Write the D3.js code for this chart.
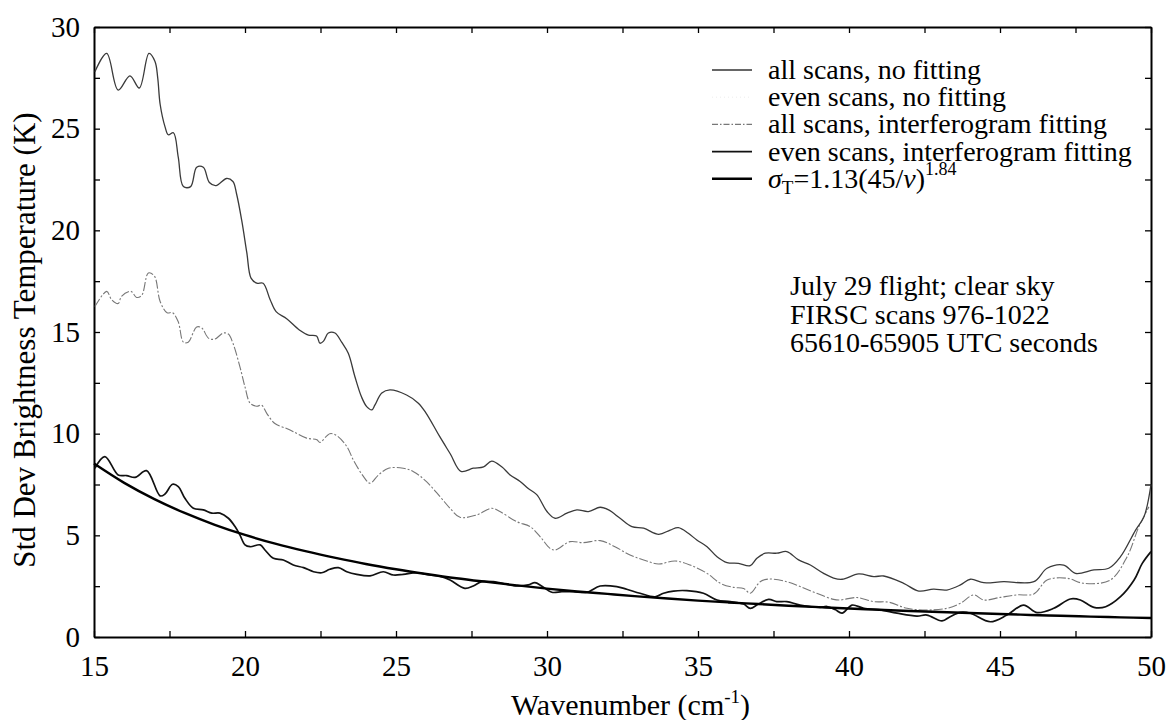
<!DOCTYPE html>
<html>
<head>
<meta charset="utf-8">
<script src="https://cdn.jsdelivr.net/npm/d3@7"></script>
<style>
  html,body{margin:0;padding:0;background:#fff;}
  svg{display:block;font-family:"Liberation Serif","Times New Roman",serif;}
</style>
</head>
<body>
<svg id="chart" width="1169" height="720"></svg>
<script>
// ---------------- DATA ----------------
const xTicks = [15, 17.5, 20, 22.5, 25, 27.5, 30, 32.5, 35, 37.5, 40, 42.5, 45, 47.5, 50];
const yTicks = [0, 2.5, 5, 7.5, 10, 12.5, 15, 17.5, 20, 22.5, 25, 27.5, 30];

// all scans, no fitting  [wavenumber, std dev K]
const allNoFit = [
[15.03,27.8],[15.42,28.7],[15.8,26.9],[16.19,27.6],[16.5,27.0],[16.82,28.7],[17.02,28.3],[17.11,27.5],
[17.19,26.2],[17.35,25.1],[17.46,24.7],[17.63,24.8],[17.79,23.6],[17.96,22.15],[18.2,22.15],[18.4,23.1],
[18.62,23.1],[18.82,22.35],[19.04,22.2],[19.39,22.55],[19.6,22.4],[19.72,21.8],[19.89,20.5],[20.06,18.9],
[20.2,17.65],[20.39,17.4],[20.6,17.4],[20.83,16.6],[21.03,16.0],[21.38,15.65],[21.8,15.1],[22.1,14.85],
[22.37,14.8],[22.48,14.45],[22.6,14.55],[22.76,14.95],[22.98,14.95],[23.2,14.5],[23.42,13.95],[23.64,12.8],
[23.86,11.8],[24.03,11.33],[24.2,11.17],[24.3,11.4],[24.53,12.0],[24.8,12.15],[25.35,11.9],[25.74,11.5],
[26.0,11.0],[26.43,9.9],[26.8,9.0],[27.15,8.15],[27.56,8.3],[27.9,8.37],[28.17,8.65],[28.5,8.37],
[28.78,7.97],[29.11,7.65],[29.38,7.3],[29.66,7.0],[30.0,6.17],[30.27,5.84],[30.66,6.09],[30.99,6.25],
[31.37,6.17],[31.76,6.38],[32.04,6.25],[32.42,5.84],[32.81,5.43],[33.2,5.35],[33.7,5.05],[34.08,5.26],
[34.35,5.38],[34.68,5.1],[34.96,4.77],[35.3,4.44],[35.63,3.95],[35.96,3.66],[36.34,3.62],[36.73,3.51],
[36.95,3.87],[37.23,4.12],[37.61,4.12],[37.94,4.2],[38.33,3.79],[38.72,3.54],[39.16,3.13],[39.49,2.9],
[39.77,2.84],[40.32,3.1],[40.82,2.97],[41.15,3.0],[41.81,2.64],[42.31,2.26],[42.8,2.35],[43.24,2.31],
[43.69,2.56],[44.02,2.84],[44.46,2.67],[45.12,2.72],[46.12,2.72],[46.56,3.38],[47.11,3.54],[47.5,3.13],
[48.11,3.3],[48.6,3.38],[48.99,3.95],[49.49,5.26],[49.77,5.92],[50.0,7.5]
];

// all scans, interferogram fitting
const allInterf = [
[15.03,16.25],[15.42,17.0],[15.58,16.6],[15.8,16.4],[15.91,16.75],[16.22,17.0],[16.41,16.7],[16.58,16.8],
[16.8,17.9],[17.0,17.75],[17.19,16.5],[17.42,15.95],[17.6,15.95],[17.79,15.5],[17.96,14.5],[18.12,14.5],
[18.4,15.25],[18.57,15.2],[18.79,14.7],[19.0,14.65],[19.28,14.95],[19.45,14.9],[19.6,14.45],[19.83,13.3],
[20.0,12.3],[20.17,11.5],[20.39,11.35],[20.55,11.4],[20.72,11.0],[20.99,10.5],[21.38,10.25],[21.6,10.1],
[22.04,9.78],[22.38,9.7],[22.48,9.57],[22.81,10.0],[23.04,9.9],[23.37,9.37],[23.59,8.7],[23.92,7.9],
[24.14,7.56],[24.42,7.97],[24.75,8.3],[25.24,8.3],[25.58,8.13],[26.01,7.64],[26.46,6.9],[26.79,6.33],
[27.12,5.89],[27.67,6.0],[28.17,6.33],[28.44,6.17],[29.0,5.67],[29.44,5.43],[29.77,4.94],[30.1,4.36],
[30.27,4.28],[30.76,4.69],[31.2,4.64],[31.76,4.74],[32.25,4.44],[32.75,4.03],[33.2,3.79],[33.69,3.59],
[34.24,3.74],[34.74,3.54],[35.3,3.13],[35.74,2.64],[36.18,2.44],[36.51,2.39],[36.73,2.15],[37.06,2.72],
[37.34,2.85],[37.94,2.72],[38.38,2.48],[38.93,2.15],[39.49,1.85],[39.7,1.82],[40.26,1.94],[40.82,1.74],
[41.32,1.71],[41.92,1.41],[42.58,1.33],[43.24,1.41],[43.69,1.66],[44.13,2.07],[44.46,1.82],[45.01,1.95],
[45.56,2.07],[46.12,2.12],[46.56,2.8],[47.22,2.89],[47.77,2.64],[48.65,2.8],[49.21,3.95],[49.6,5.43],
[49.93,6.4]
];

// even scans, interferogram fitting
const evenInterf = [
[15.03,8.3],[15.36,8.87],[15.8,7.97],[16.08,7.94],[16.36,7.85],[16.74,8.18],[17.19,6.94],[17.35,7.03],
[17.6,7.51],[17.79,7.4],[18.01,6.82],[18.29,6.33],[18.62,6.25],[18.9,6.09],[19.17,6.09],[19.45,5.84],
[19.67,5.43],[19.83,5.02],[20.0,4.53],[20.17,4.44],[20.5,4.53],[20.66,4.28],[20.94,3.87],[21.27,3.79],
[21.6,3.54],[21.94,3.41],[22.27,3.21],[22.54,3.16],[22.81,3.33],[23.09,3.41],[23.37,3.21],[23.7,3.08],
[24.14,3.01],[24.58,3.21],[24.91,3.05],[25.24,3.08],[25.68,3.16],[26.13,3.05],[26.5,2.97],[26.79,2.8],
[27.28,2.39],[27.56,2.51],[27.84,2.72],[28.22,2.72],[29.0,2.51],[29.38,2.56],[29.6,2.67],[29.82,2.51],
[30.16,2.2],[30.49,2.23],[30.87,2.23],[31.32,2.2],[31.76,2.51],[32.31,2.48],[32.64,2.35],[33.08,2.15],
[33.58,1.98],[33.86,2.15],[34.19,2.26],[34.63,2.28],[35.18,2.15],[35.63,1.82],[36.07,1.74],[36.51,1.62],
[36.73,1.41],[37.0,1.62],[37.34,1.85],[37.61,1.74],[37.94,1.74],[38.38,1.57],[39.05,1.46],[39.27,1.5],
[39.54,1.35],[39.77,1.17],[40.1,1.57],[40.49,1.41],[41.04,1.33],[41.59,1.17],[42.25,1.03],[42.58,1.08],
[43.08,0.79],[43.35,1.0],[43.69,1.21],[44.02,1.17],[44.68,0.75],[45.23,1.08],[45.78,1.57],[46.23,1.2],
[46.78,1.41],[47.33,1.87],[47.66,1.82],[48.11,1.46],[48.5,1.49],[48.99,1.98],[49.44,2.8],[49.71,3.62],
[50.0,4.2]
];

// sigma_T = 1.13 (45/nu)^1.84, read at integer wavenumbers
const fitX = [15,16,17,18,19,20,21,22,23,24,25,26,27,28,29,30,31,32,33,34,35,36,37,38,39,40,41,42,43,44,45,46,47,48,49,50];
const fitY = [8.53,7.58,6.78,6.10,5.52,5.02,4.59,4.22,3.89,3.59,3.33,3.10,2.89,2.71,2.54,2.38,2.24,2.12,2.00,1.89,
              1.79,1.70,1.62,1.54,1.47,1.40,1.34,1.28,1.23,1.18,1.13,1.085,1.043,1.003,0.966,0.931];

const legendLabels = ["all scans, no fitting", "even scans, no fitting", "all scans, interferogram fitting", "even scans, interferogram fitting", "fit"];
const noteLines = ["July 29 flight; clear sky", "FIRSC scans 976-1022", "65610-65905 UTC seconds"];

// ---------------- DRAW ----------------
const svg = d3.select("#chart");
const L = 94, R = 1151, T = 27, B = 637;
const x = d3.scaleLinear().domain([15, 50]).range([L, R]);
const y = d3.scaleLinear().domain([0, 30]).range([B, T]);

const fmtX = d => (d % 5 === 0 ? d : "");
const fmtY = d => (d % 5 === 0 ? d : "");

function styleAxis(g) {
  g.select(".domain").attr("stroke", "#000").attr("stroke-width", 2);
  g.selectAll(".tick line").attr("stroke", "#000").attr("stroke-width", 1.3);
  g.selectAll("text").attr("fill", "#000").style("font-size", "29px")
    .style("font-family", '"Liberation Serif","Times New Roman",serif');
}

svg.append("g").attr("transform", `translate(0,${B})`)
  .call(d3.axisBottom(x).tickValues(xTicks).tickFormat(fmtX).tickSizeInner(-6).tickSizeOuter(0).tickPadding(18))
  .call(styleAxis);
svg.append("g").attr("transform", `translate(0,${T})`)
  .call(d3.axisTop(x).tickValues(xTicks).tickFormat("").tickSizeInner(-6).tickSizeOuter(0))
  .call(styleAxis);
svg.append("g").attr("transform", `translate(${L},0)`)
  .call(d3.axisLeft(y).tickValues(yTicks).tickFormat(fmtY).tickSizeInner(-6).tickSizeOuter(0).tickPadding(14))
  .call(styleAxis);
svg.append("g").attr("transform", `translate(${R},0)`)
  .call(d3.axisRight(y).tickValues(yTicks).tickFormat("").tickSizeInner(-6).tickSizeOuter(0))
  .call(styleAxis);

// axis titles
const xt = svg.append("text").attr("x", (L + R) / 2 + 8).attr("y", 715)
  .attr("text-anchor", "middle").style("font-size", "30px").attr("fill", "#000");
xt.append("tspan").text("Wavenumber (cm");
xt.append("tspan").attr("dy", -12).style("font-size", "19px").text("-1");
xt.append("tspan").attr("dy", 12).text(")");

svg.append("text").attr("transform", `translate(35,${(T + B) / 2 + 8}) rotate(-90)`)
  .attr("text-anchor", "middle").style("font-size", "31px").attr("fill", "#000")
  .text("Std Dev Brightness Temperature (K)");

// lines
const line = d3.line().x(d => x(d[0])).y(d => y(d[1])).curve(d3.curveCatmullRom.alpha(0.5));
const plot = svg.append("g");

plot.append("path").datum(allInterf).attr("d", line)
  .attr("fill", "none").attr("stroke", "#777").attr("stroke-width", 1.1)
  .attr("stroke-dasharray", "9,2,2,2");
plot.append("path").datum(allNoFit).attr("d", line)
  .attr("fill", "none").attr("stroke", "#3a3a3a").attr("stroke-width", 1.3);
plot.append("path").datum(evenInterf).attr("d", line)
  .attr("fill", "none").attr("stroke", "#111").attr("stroke-width", 1.7);
const fitData = fitX.map((v, i) => [v, fitY[i]]);
plot.append("path").datum(fitData).attr("d", line)
  .attr("fill", "none").attr("stroke", "#000").attr("stroke-width", 2.4);

// legend
const legStyles = [
  {stroke: "#333", w: 1.3, dash: null},
  {stroke: "#ececec", w: 1, dash: "1,3"},
  {stroke: "#777", w: 1.1, dash: "6,2,1.5,2"},
  {stroke: "#111", w: 1.7, dash: null},
  {stroke: "#000", w: 2.4, dash: null}
];
const leg = svg.append("g");
legendLabels.forEach((lab, i) => {
  const cy = 70 + i * 27.2;
  leg.append("line").attr("x1", 712).attr("x2", 752).attr("y1", cy).attr("y2", cy)
    .attr("stroke", legStyles[i].stroke).attr("stroke-width", legStyles[i].w)
    .attr("stroke-dasharray", legStyles[i].dash);
  const t = leg.append("text").attr("x", 768).attr("y", cy + 9).style("font-size", "28px").attr("fill", "#000");
  if (i < 4) {
    t.text(lab);
  } else {
    t.append("tspan").style("font-style", "italic").text("σ");
    t.append("tspan").attr("dy", 6).style("font-size", "19px").text("T");
    t.append("tspan").attr("dy", -6).text("=1.13(45/");
    t.append("tspan").style("font-style", "italic").text("ν");
    t.append("tspan").text(")");
    t.append("tspan").attr("dy", -13).style("font-size", "18px").text("1.84");
  }
});

// annotation
const note = svg.append("g");
noteLines.forEach((s, i) => {
  note.append("text").attr("x", 790).attr("y", 295 + i * 28.5)
    .style("font-size", "28px").attr("fill", "#000").text(s);
});
</script>
</body>
</html>
